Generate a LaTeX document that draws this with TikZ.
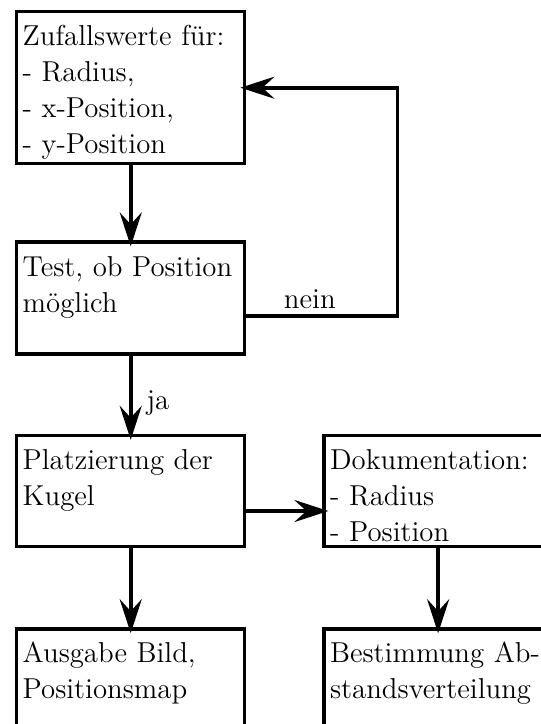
\documentclass[tikz,border=0pt]{standalone}
\usepackage{tikz}
\usetikzlibrary{arrows.meta, positioning}

\begin{document}
\begin{tikzpicture}[font=\Large,
    block/.style={draw, rectangle, line width=1.7pt, align=left, text width=108pt,
      inner xsep=3pt, inner ysep=7pt, text height=10pt},
    pfeil/.style={line width=1.8pt, -{Stealth[length=17pt, width=11pt, inset=6pt]}, shorten >=-3pt}]
  \clip (0,0) rectangle (9.507,-12.723);
  % Ablauf links
  \node[block, anchor=north west, text depth=52pt] (zufall) at (0.264,-0.176)
    {Zufallswerte für:\\- Radius,\\- x-Position,\\- y-Position};
  \node[block, below=37.5pt of zufall, text depth=32pt] (test) {Test, ob Position\\möglich};
  \node[block, below=39pt of test, text depth=31.5pt] (platz) {Platzierung der\\Kugel};
  \node[block, below=39.5pt of platz, text depth=31.5pt] (ausgabe) {Ausgabe Bild,\\Positionsmap};
  % Auswertung rechts
  \node[block, right=38pt of platz, text depth=31.5pt] (doku) {Dokumentation:\\- Radius\\- Position};
  \node[block, below=39.5pt of doku, text depth=31.5pt] (abstand) {Bestimmung Ab-\\standsverteilung};
  % Pfeile
  \draw[pfeil] (zufall) -- (test);
  \draw[pfeil] (test) -- node[pos=0.6, right=7pt, inner sep=0pt] {ja} (platz);
  \draw[pfeil] ([yshift=-9pt]test.east) -- node[pos=0.42, above, inner sep=3pt] {nein} ++(75.5pt,0) |- (zufall.east);
  \draw[pfeil] ([yshift=-10pt]platz.east) -- ([yshift=-10pt]doku.west);
  \draw[pfeil] (platz) -- (ausgabe);
  \draw[pfeil] (doku) -- (abstand);
\end{tikzpicture}
\end{document}
